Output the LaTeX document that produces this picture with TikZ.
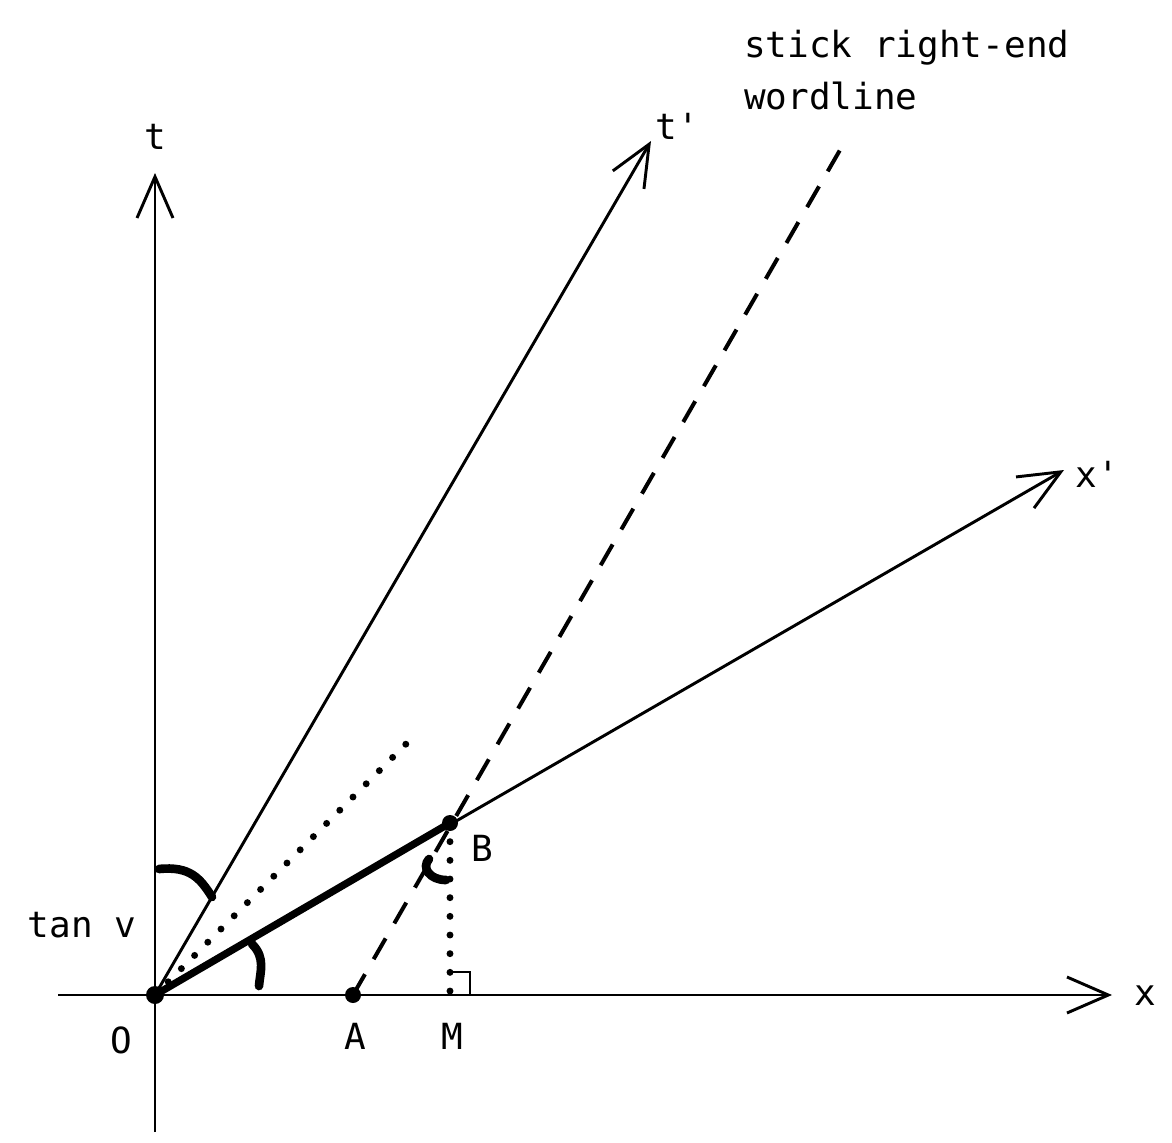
\documentclass[tikz,border=0pt]{standalone}
\usepackage{fontspec}
\setmonofont{DejaVu Sans Mono}
\usetikzlibrary{arrows.meta}
\begin{document}
\begin{tikzpicture}[x=0.75pt,y=-0.75pt,
  axis/.style={line width=2.2pt,-{Straight Barb[length=31pt,width=27pt,line width=2.2pt]}},
  thickseg/.style={line width=5.5pt,line cap=round},
  dashline/.style={line width=3pt,dash pattern=on 18pt off 13pt},
  dotline/.style={line width=5.2pt,line cap=round,dash pattern=on 0pt off 14pt},
  anglemark/.style={line width=6.5pt,line cap=round},
  lbl/.style={font=\fontsize{27}{39}\selectfont\ttfamily,inner sep=0pt},
  dotpt/.style={circle,fill=black,inner sep=0pt,minimum size=13.5pt}]
\useasboundingbox (0,0) rectangle (1172,1143);
% coordinates
\coordinate (O) at (155,995);
\coordinate (A) at (353,995);
\coordinate (B) at (450,823);
\coordinate (M) at (450,995);
\coordinate (xs) at (58,995);
\coordinate (xe) at (1112,995);
\coordinate (ts) at (155,1132);
\coordinate (te) at (155,173);
\coordinate (tpe) at (651,141);
\coordinate (xpe) at (1064,470);
\coordinate (we) at (840,150);
\coordinate (de) at (412,738);
% axes
\draw[axis] (xs) -- (xe);
\draw[axis] (ts) -- (te);
\draw[axis] (O) -- (tpe);
\draw[axis] (O) -- (xpe);
% dashed worldline
\draw[dashline] (A) -- (we);
% dotted lines
\draw[dotline] (O) -- (de);
\draw[dotline] (B) -- (M);
% right angle mark
\draw[line width=2.2pt] (450,972) -- (470,972) -- (470,995);
% thick segment
\draw[thickseg] (O) -- (B);
% angle marks
\draw[anglemark] (159,869) .. controls (190,866) and (200,878) .. (212,897);
\draw[anglemark] (252,944) .. controls (266,958) and (260,972) .. (259,986);
\draw[anglemark] (429,859) .. controls (421,868) and (430,880) .. (446,880);
% points
\node[dotpt] (Od) at (O) {};
\node[dotpt,minimum size=12pt] (Ad) at (A) {};
\node[dotpt,minimum size=12pt] (Bd) at (B) {};
% labels
\node[lbl] (tl) at (155,137) {t};
\node[lbl] (tpl) at (677,126) {t'};
\node[lbl] (xpl) at (1097,474) {x'};
\node[lbl] (xl) at (1145,996) {x};
\node[lbl] (Bl) at (482,848) {B};
\node[lbl] (Ol) at (121,1040) {O};
\node[lbl] (Al) at (355,1036) {A};
\node[lbl] (Ml) at (452,1036) {M};
\node[lbl] (tanl) at (82,925) {tan v};
\node[lbl,anchor=north west,align=left] (stick) at (744,30) {stick right-end\\wordline};
\end{tikzpicture}
\end{document}
